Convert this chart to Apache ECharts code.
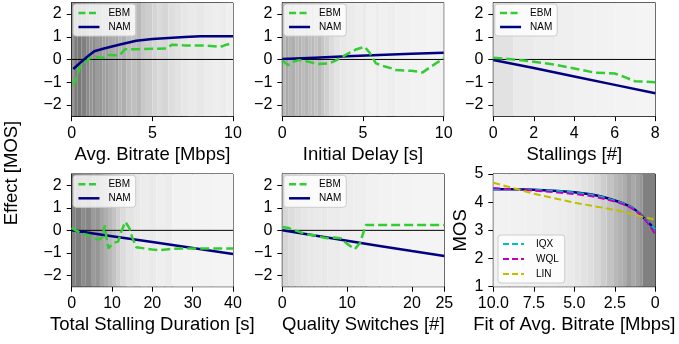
<!DOCTYPE html>
<html><head><meta charset="utf-8">
<script src="https://cdn.jsdelivr.net/npm/echarts@6/dist/echarts.min.js"></script>
<style>html,body{margin:0;padding:0;background:#fff}#c{width:679px;height:344px}</style>
</head><body><div id="c"></div>
<script>
// ---------------- data ----------------
const xTitles = ['Avg. Bitrate [Mbps]','Initial Delay [s]','Stallings [#]','Total Stalling Duration [s]','Quality Switches [#]','Fit of Avg. Bitrate [Mbps]'];
const xMax = [10,10,8,40,25,10];
const xInterval = [5,5,2,10,10,2.5];
const effectTicks = [-2,-1,0,1,2];
const mosTicks = [1,2,3,4,5];

const bitrateEBM = [[0.1,-1.15],[0.3,-0.8],[0.5,-0.35],[0.8,-0.15],[1.1,0.05],[1.5,0.1],[2.0,0.08],[2.2,0.2],[2.6,0.18],[3.0,0.2],[3.3,0.45],[4,0.45],[5,0.47],[5.9,0.48],[6.2,0.65],[7,0.62],[8,0.62],[8.8,0.58],[9.2,0.55],[9.6,0.65],[10,0.72]];
const bitrateNAM = [[0.1,-0.42],[0.5,-0.16],[1,0.14],[1.4,0.36],[2,0.48],[3,0.66],[4,0.82],[5,0.9],[6,0.95],[7,0.99],[8,1.02],[10,1.02]];

const delayEBM = [[0,-0.05],[0.35,-0.25],[0.7,-0.1],[1.0,-0.03],[1.5,-0.08],[2.2,-0.2],[2.9,-0.17],[3.3,-0.05],[4.1,0.27],[4.6,0.45],[5.1,0.56],[5.4,0.3],[5.8,-0.17],[6.3,-0.3],[6.8,-0.4],[7.0,-0.47],[8,-0.5],[8.7,-0.57],[9.2,-0.32],[10,0.05]];
const delayNAM = [[0,0.02],[2,0.08],[4,0.14],[6,0.2],[8,0.25],[10,0.3]];

const stallEBM = [[0,0.08],[1,0],[2,-0.1],[3,-0.22],[4,-0.4],[5,-0.58],[6,-0.62],[6.5,-0.78],[7,-0.96],[8,-1.0]];
const stallNAM = [[0,-0.02],[2,-0.38],[4,-0.75],[6,-1.12],[8,-1.49]];

const durationEBM = [[0,0.12],[1,0.0],[2.5,-0.15],[4,-0.2],[5,-0.28],[6,-0.38],[7,-0.4],[7.6,-0.3],[8.2,0.22],[8.6,-0.3],[9.1,-0.8],[9.6,-0.7],[10.5,-0.55],[11.5,-0.5],[12.3,-0.05],[13.3,0.38],[14.3,0.1],[15,-0.3],[16,-0.75],[18,-0.8],[20,-0.85],[22,-0.88],[25,-0.82],[30,-0.8],[40,-0.8]];
const durationNAM = [[0,0],[10,-0.26],[20,-0.52],[30,-0.78],[40,-1.05]];

const switchEBM = [[0,0.15],[1,0.1],[2,0],[3,-0.1],[4,-0.18],[5,-0.22],[6,-0.3],[7,-0.35],[8,-0.32],[9,-0.35],[10,-0.6],[11.2,-0.83],[12,-0.55],[12.9,0.24],[25,0.24]];
const switchNAM = [[0,0],[5,-0.23],[10,-0.46],[15,-0.69],[20,-0.92],[25,-1.14]];

const fitNAM = [[10,4.46],[9,4.46],[8,4.45],[7.5,4.44],[6,4.4],[5,4.35],[4,4.28],[3.4,4.21],[3,4.15],[2.5,4.06],[2,3.96],[1.5,3.83],[1.36,3.78],[1,3.62],[0.74,3.46],[0.5,3.32],[0.25,3.18],[0,3.03]];
const fitIQX = [[10,4.46],[9,4.46],[8,4.44],[7.5,4.43],[6,4.4],[5,4.34],[4,4.27],[3.4,4.2],[3,4.14],[2.5,4.05],[2,3.96],[1.5,3.83],[1.36,3.78],[1,3.62],[0.74,3.45],[0.5,3.32],[0.25,3.18],[0,3.04]];
const fitWQL = [[10,4.5],[9,4.47],[8,4.43],[7,4.39],[6,4.34],[5,4.29],[4,4.22],[3.4,4.15],[3,4.1],[2.5,4.02],[2,3.93],[1.5,3.8],[1,3.6],[0.75,3.45],[0.5,3.28],[0.25,3.08],[0,2.86]];
const fitLIN = [[10,4.69],[7.5,4.3],[5,3.98],[2.4,3.72],[1.2,3.53],[0,3.38]];

// density shading: band edges along x and gray level of each band
const shadeEdges = [
  [0,0.15,0.35,0.6,0.9,1.1,1.3,1.5,1.7,1.9,2.1,2.3,2.5,2.7,2.9,3.1,3.4,3.7,4.0,4.3,4.6,5.0,5.3,5.6,6.0,6.4,6.8,7.2,7.7,8.2,8.7,9.2,9.6,10],
  [0,0.2,0.4,0.6,0.8,1.0,1.2,1.4,1.6,1.8,2.0,2.2,2.4,2.6,2.9,3.2,3.6,4.0,4.5,5.0,5.2,5.8,6.0,6.5,6.8,7.0,8.0,9.0,10],
  [0,1,2,3,4,5,6,7,8],
  [0,1,2.5,3.5,5,6,7,8,9,10,11,12,13.5,15.5,17,19,21,23,25,30,35,40],
  [0,1,2,3,4,5,6,7,8,9,10,11,12,13,15,17,20,25],
  [0,0.8,1.0,1.2,1.5,1.8,2.0,2.3,2.6,3.0,3.4,3.8,4.2,4.6,5.0,5.5,6.0,7.0,8.0,9.0,10]
];
const shadeGrays = [
  [150,125,120,128,138,148,142,155,150,160,158,168,172,165,180,175,188,192,185,200,205,212,218,214,222,226,230,234,232,236,238,236,240],
  [185,170,180,175,185,178,188,182,190,185,195,188,198,208,220,228,232,235,238,234,240,236,240,238,237,241,242,243],
  [226,234,237,239,241,242,243,244],
  [130,125,140,135,155,150,165,175,185,195,208,220,228,232,236,234,238,236,242,243,244],
  [215,222,226,230,232,234,233,236,235,238,237,239,238,241,242,243,244],
  [128,150,160,168,158,172,178,185,195,205,215,222,226,230,234,236,238,240,241,242]
];

// ---------------- layout ----------------
const gridPos = [
  {left:71.7, top:2.7, width:161.3, height:113.5},
  {left:282.3, top:2.7, width:161.4, height:113.5},
  {left:493.3, top:2.7, width:162, height:113.5},
  {left:71.7, top:174, width:161.3, height:112.7},
  {left:282.3, top:174, width:162, height:112.7},
  {left:493.3, top:174, width:162, height:112.7}
];
const FONT = '"Liberation Sans", Arial, sans-serif';
const minus = v => (v < 0 ? '\u2212' + Math.abs(v) : String(v));

const grids = [], xAxes = [], yAxes = [], series = [], legends = [];
gridPos.forEach((g, i) => {
  grids.push(Object.assign({show:true, borderColor:'#000', borderWidth:1, backgroundColor:'rgba(0,0,0,0)'}, g));
  xAxes.push({
    type:'value', gridIndex:i, min:0, max:xMax[i], interval:xInterval[i], inverse: i === 5,
    name:xTitles[i], nameLocation:'middle', nameGap:29,
    nameTextStyle:{fontFamily:FONT, fontSize:18.5, color:'#000'},
    axisLine:{show:true, onZero:false, lineStyle:{color:'#000', width:1}},
    axisTick:{show:true, length:5, lineStyle:{color:'#000'}},
    axisLabel:{fontFamily:FONT, fontSize:16, color:'#000', margin:9, showMaxLabel:true, showMinLabel:true,
      formatter: v => (i === 5 ? (v === 0 ? '0' : v.toFixed(1)) : String(v))},
    splitLine:{show:false}
  });
  if (i < 5) {
    yAxes.push({
      type:'value', gridIndex:i, min:-2.5, max:2.5,
      axisLine:{show:true, onZero:false, lineStyle:{color:'#000', width:1}},
      axisTick:{show:true, length:5, customValues:effectTicks, lineStyle:{color:'#000'}},
      axisLabel:{fontFamily:FONT, fontSize:16, color:'#000', margin:10, customValues:effectTicks, formatter:minus},
      splitLine:{show:false}
    });
  } else {
    yAxes.push({
      type:'value', gridIndex:i, min:1, max:5, interval:1,
      name:'MOS', nameLocation:'middle', nameGap:21,
      nameTextStyle:{fontFamily:FONT, fontSize:18.5, color:'#000'},
      axisLine:{show:true, onZero:false, lineStyle:{color:'#000', width:1}},
      axisTick:{show:true, length:5, lineStyle:{color:'#000'}},
      axisLabel:{fontFamily:FONT, fontSize:16, color:'#000', margin:10},
      splitLine:{show:false}
    });
  }
  // shading bands
  const edges = shadeEdges[i], grays = shadeGrays[i];
  const areas = [];
  for (let k = 0; k < grays.length; k++) {
    const c = grays[k];
    areas.push([{xAxis:edges[k], itemStyle:{color:'rgb(' + c + ',' + c + ',' + c + ')'}}, {xAxis:edges[k+1]}]);
  }
  series.push({type:'line', xAxisIndex:i, yAxisIndex:i, data:[], z:1, silent:true,
    markArea:{silent:true, data:areas, itemStyle:{opacity:1, borderWidth:0}}});
});

// zero lines for effect plots
for (let i = 0; i < 5; i++) {
  series.push({type:'line', name:'zero', xAxisIndex:i, yAxisIndex:i, data:[[0,0],[xMax[i],0]],
    symbol:'none', lineStyle:{color:'#000', width:1}, z:2, silent:true});
}

const GREEN = '#32cd32', NAVY = '#000080';
const CYAN = '#00bfbf', MAGENTA = '#bf00bf', OLIVE = '#bfbf00';
const effectData = [[bitrateEBM,bitrateNAM],[delayEBM,delayNAM],[stallEBM,stallNAM],[durationEBM,durationNAM],[switchEBM,switchNAM]];
const legendBase = {
  orient:'vertical', itemWidth:21, itemHeight:10,
  backgroundColor:'rgba(255,255,255,0.8)', borderColor:'#cccccc', borderWidth:1, borderRadius:3,
  itemStyle:{opacity:0, borderWidth:0}, selectedMode:false
};
effectData.forEach((pair, i) => {
  series.push({type:'line', name:'EBM', xAxisIndex:i, yAxisIndex:i, data:pair[0], symbol:'none', z:4,
    lineStyle:{color:GREEN, width:2.5, type:[9,4]}, itemStyle:{color:GREEN}});
  series.push({type:'line', name:'NAM', xAxisIndex:i, yAxisIndex:i, data:pair[1], symbol:'none', z:3,
    lineStyle:{color:NAVY, width:2.5}, itemStyle:{color:NAVY}});
  legends.push(Object.assign({}, legendBase, {
    data:[
      {name:'EBM', lineStyle:{color:GREEN, width:2.5, type:[7,3.5]}},
      {name:'NAM', lineStyle:{color:NAVY, width:2.5, type:'solid'}}
    ],
    left:gridPos[i].left + 1.5, top:gridPos[i].top + 1.3, itemGap:4, padding:[4,5,4,4],
    textStyle:{fontFamily:FONT, fontSize:10, color:'#000', padding:[0,0,0,4]}
  }));
});
series.push({type:'line', name:'NAMfit', xAxisIndex:5, yAxisIndex:5, data:fitNAM, symbol:'none', z:3,
  lineStyle:{color:NAVY, width:2.5}});
series.push({type:'line', name:'IQX', xAxisIndex:5, yAxisIndex:5, data:fitIQX, symbol:'none', z:4,
  lineStyle:{color:CYAN, width:2, type:[7,3.5]}, itemStyle:{color:CYAN}});
series.push({type:'line', name:'WQL', xAxisIndex:5, yAxisIndex:5, data:fitWQL, symbol:'none', z:4,
  lineStyle:{color:MAGENTA, width:2, type:[7,3.5]}, itemStyle:{color:MAGENTA}});
series.push({type:'line', name:'LIN', xAxisIndex:5, yAxisIndex:5, data:fitLIN, symbol:'none', z:4,
  lineStyle:{color:OLIVE, width:2, type:[7,3.5]}, itemStyle:{color:OLIVE}});
legends.push(Object.assign({}, legendBase, {
  data:[
    {name:'IQX', lineStyle:{color:CYAN, width:2, type:[6,3]}},
    {name:'WQL', lineStyle:{color:MAGENTA, width:2, type:[6,3]}},
    {name:'LIN', lineStyle:{color:OLIVE, width:2, type:[6,3]}}
  ],
  left:498, top:235, itemGap:5, padding:[4,6,4,4],
  textStyle:{fontFamily:FONT, fontSize:10, color:'#000', padding:[0,0,0,7]}
}));

const chart = echarts.init(document.getElementById('c'), null, {renderer:'canvas'});
chart.setOption({
  animation:false,
  backgroundColor:'#fff',
  grid:grids, xAxis:xAxes, yAxis:yAxes, legend:legends, series:series,
  graphic:[{type:'text', x:12, y:173, rotation:Math.PI/2,
    style:{text:'Effect [MOS]', font:'18.5px ' + FONT, fill:'#000', textAlign:'center', textVerticalAlign:'middle'}}]
});
</script></body></html>
